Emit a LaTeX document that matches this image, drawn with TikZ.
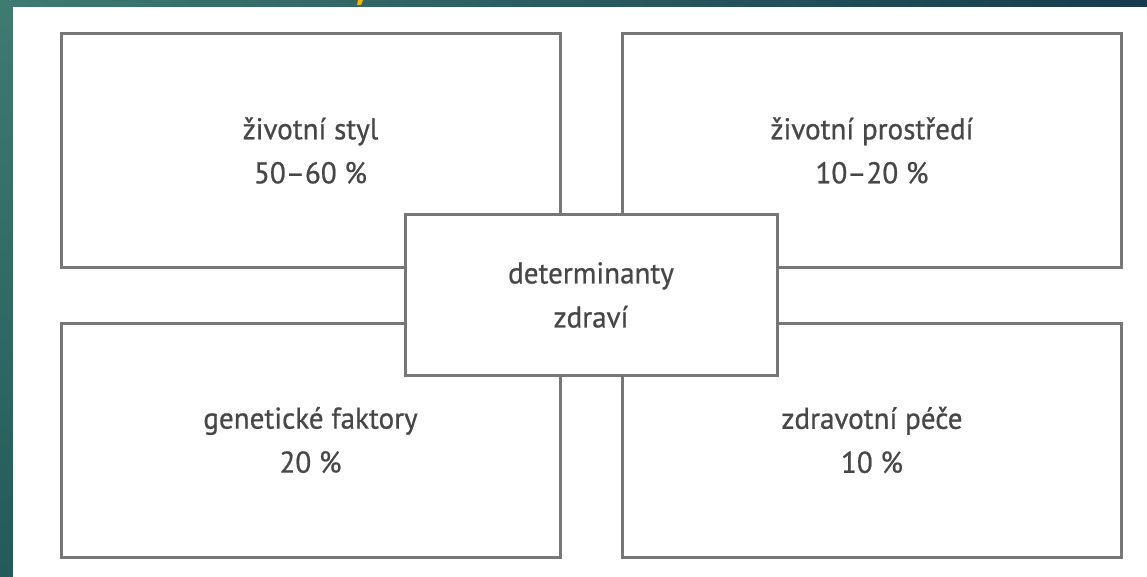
\documentclass[tikz,border=0pt]{standalone}
\usepackage{fontspec}
\setmainfont[FakeStretch=0.97,FakeBold=0.7]{PT Sans}
\usepackage{xcolor}
\usepackage{tikz}
\usetikzlibrary{positioning}
\definecolor{frameteal}{HTML}{3E7B71}
\definecolor{framedeep}{HTML}{245A5A}
\definecolor{framenavy}{HTML}{163B4D}
\definecolor{markgold}{HTML}{F2B400}
\definecolor{edgegray}{HTML}{777777}
\definecolor{textgray}{HTML}{474747}
\tikzset{
  factor/.style={draw=edgegray,line width=3pt,fill=white,align=center,inner sep=0pt,
    minimum width=499pt,minimum height=234pt,text=textgray,
    font=\fontsize{30}{44}\selectfont},
  core/.style={factor,minimum width=372pt,minimum height=160pt}
}
\begin{document}
\begin{tikzpicture}[x=1pt,y=-1pt]
\useasboundingbox (0,0) rectangle (1147,577);
% frame
\shade[left color=frameteal,right color=framenavy] (0,0) rectangle (1147,8);
\shade[top color=frameteal,bottom color=framedeep] (0,0) rectangle (13,577);
\fill[white] (13,7) rectangle (1147,577);
\fill[markgold] (358,0)--(363,0)--(361,5)--(357,5)--cycle;
% four factors
\node[factor] (styl) at (310.5,150.5) {životní styl\\50--60 \%};
\node[factor] (prostredi) at (872,150.5) {životní prostředí\\10--20 \%};
\node[factor] (geny) at (310.5,440) {genetické faktory\\20 \%};
\node[factor] (pece) at (872,440) {zdravotní péče\\10 \%};
% centre
\node[core] (det) at (591,295) {determinanty\\zdraví};
\end{tikzpicture}
\end{document}
